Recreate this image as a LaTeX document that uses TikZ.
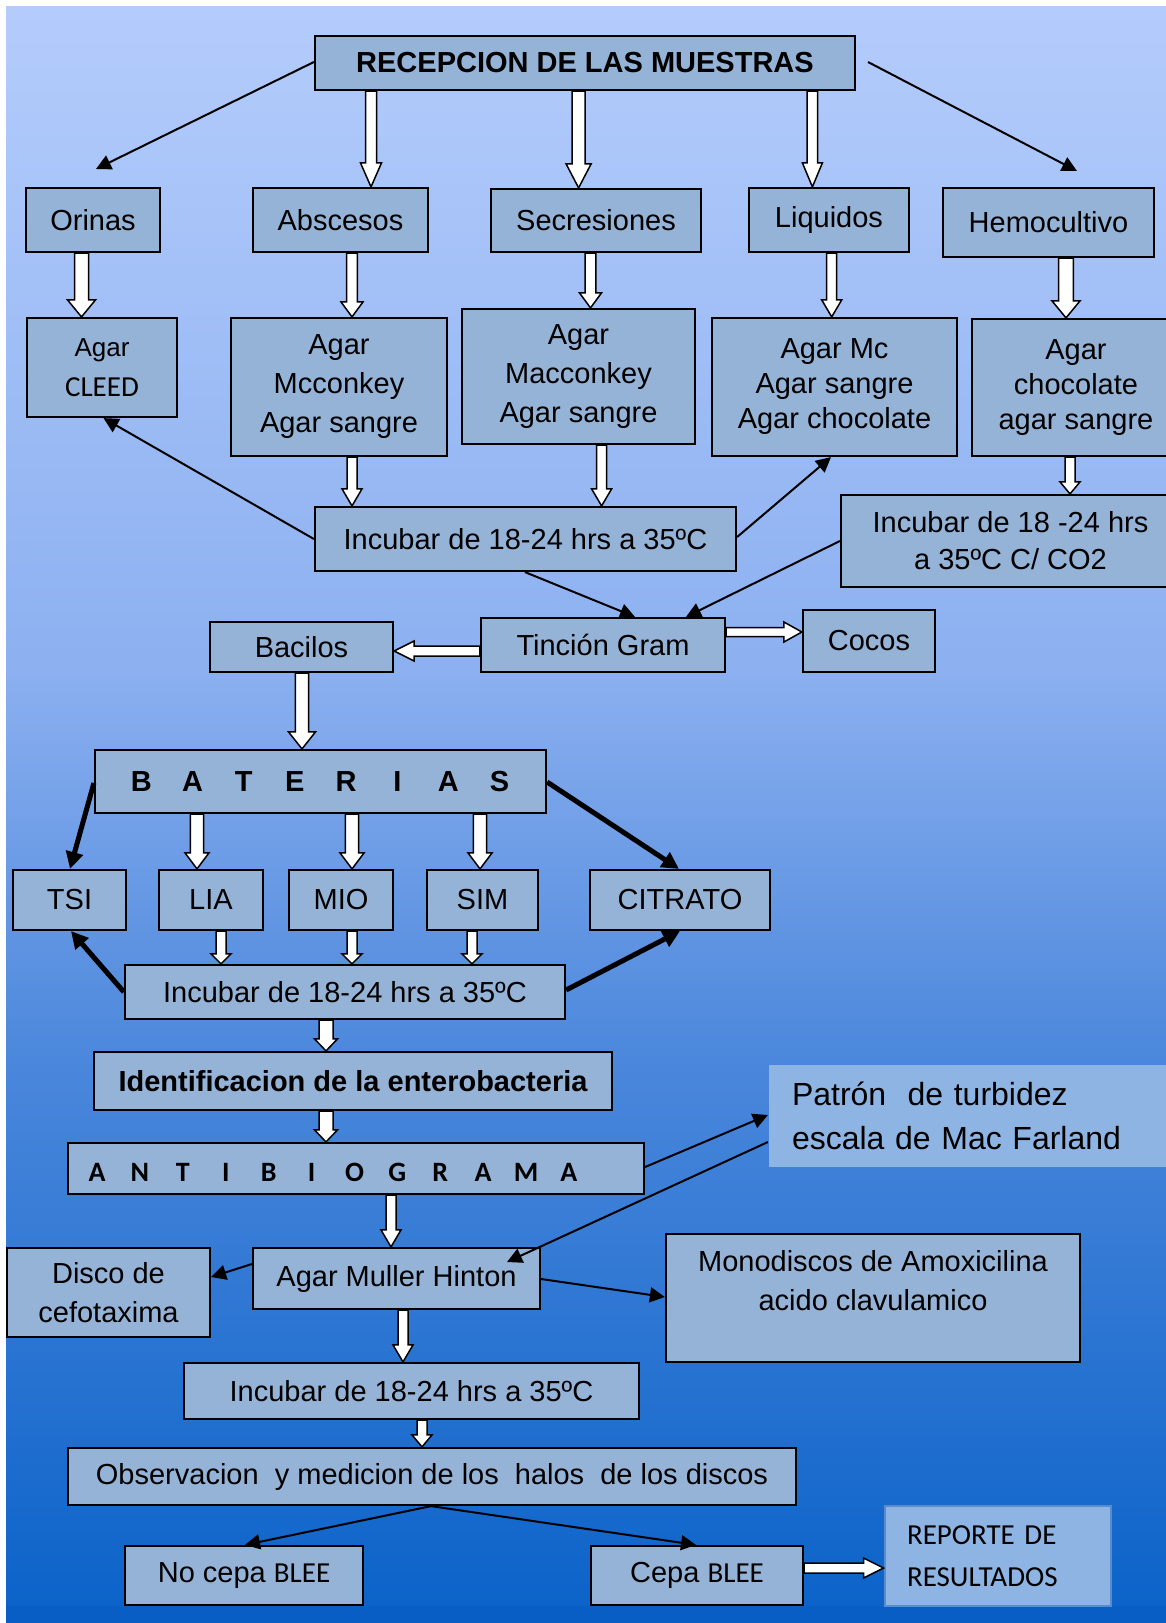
\documentclass[tikz,border=0pt]{standalone}
\usepackage{fontspec}
\setmainfont{Liberation Sans}
\newfontfamily\calib{Carlito}
\usetikzlibrary{calc,arrows.meta}
\definecolor{boxfill}{RGB}{149,179,215}
\definecolor{litefill}{RGB}{142,180,228}
\definecolor{repborder}{RGB}{90,140,205}
\definecolor{bgA}{RGB}{180,204,252}
\definecolor{bgB}{RGB}{140,176,240}
\definecolor{bgC}{RGB}{76,136,220}
\definecolor{bgD}{RGB}{12,99,201}
\definecolor{bgE}{RGB}{8,94,197}
\newcommand\fs{\fontsize{29}{39}\selectfont}
\newcommand\fst{\fontsize{29}{35}\selectfont}
\tikzset{
  box/.style={draw=black, line width=2.2pt, fill=boxfill, inner sep=0pt, align=center, font=\fs},
  thinarr/.style={draw=black, line width=2pt, -{Triangle[length=15pt,width=15pt]}},
  thickarr/.style={draw=black, line width=5pt, -{Triangle[length=17pt,width=17pt]}},
  blockarrow/.style={draw=black, fill=white, line width=1.5pt, line join=miter},
  txt/.style={inner sep=0pt, align=center, font=\fs},
}
\newcommand\bx[7][]{\node[box,minimum width={(#5-#3)*1pt},minimum height={(#6-#4)*1pt},#1] (#2) at ({(#3+#5)/2},{(#4+#6)/2}) {#7};}
\newcommand\barrow[5]{%
  \coordinate (bh) at ($(#5)!#3!(#4)$);
  \filldraw[blockarrow] ($(#4)!#1!90:(#5)$) -- ($(bh)!#1!90:(#5)$) -- ($(bh)!#2!90:(#5)$) -- (#5) -- ($(bh)!#2!-90:(#5)$) -- ($(bh)!#1!-90:(#5)$) -- ($(#4)!#1!-90:(#5)$) -- cycle;}
\newcommand\vba[6]{\coordinate (ba) at (#4 -| #6,0); \coordinate (bb) at (#5 -| #6,0); \barrow{#1}{#2}{#3}{ba}{bb}}
\newcommand\hba[6]{\coordinate (ba) at (#4 |- 0,#6); \coordinate (bb) at (#5 |- 0,#6); \barrow{#1}{#2}{#3}{ba}{bb}}
\newcommand\lt[1]{\makebox[51.2pt]{#1}}
\newcommand\la[1]{\makebox[42.9pt]{#1}}
\begin{document}
\begin{tikzpicture}[x=1pt,y=-1pt]
\useasboundingbox (0,0) rectangle (1166,1623);
% background
\fill[white] (0,0) rectangle (1166,1623);
\shade[top color=bgA, bottom color=bgB] (6,6) rectangle (1166,671);
\shade[top color=bgB, bottom color=bgC] (6,670) rectangle (1166,1051);
\shade[top color=bgC, bottom color=bgD] (6,1050) rectangle (1166,1607);
\fill[bgE] (6,1606) rectangle (1166,1623);

% boxes
\bx[font=\bfseries\fs]{rec}{315}{36}{855}{90}{RECEPCION DE LAS MUESTRAS}
\bx{orinas}{26}{188}{160}{252}{Orinas}
\bx{absc}{253}{188}{428}{252}{Abscesos}
\bx{secr}{491}{189}{701}{252}{Secresiones}
\bx{liq}{749}{188}{909}{252}{Liquidos}
\bx{hemo}{943}{188}{1154}{257}{Hemocultivo}
\bx[font=\fontsize{26}{40}\selectfont]{cleed}{27}{318}{177}{417}{Agar\\{\calib\fontsize{29}{40}\selectfont CLEED}}
\bx{mcc}{231}{318}{447}{456}{Agar\\Mcconkey\\Agar sangre}
\bx{mac}{462}{309}{695}{444}{Agar\\Macconkey\\Agar sangre}
\bx[font=\fst]{agmc}{712}{318}{957}{456}{Agar Mc\\Agar sangre\\Agar chocolate}
\bx[font=\fst]{choc}{972}{319}{1180}{456}{Agar\\chocolate\\agar sangre}
\bx{inc1}{315}{507}{736}{571}{Incubar de 18-24 hrs a 35ºC}
\bx[font=\fontsize{29}{37}\selectfont]{co2}{841}{495}{1180}{587}{Incubar de 18 -24 hrs\\a 35ºC C/ CO2}
\bx{tin}{481}{618}{725}{672}{Tinción Gram}
\bx{bac}{210}{622}{393}{672}{Bacilos}
\bx{cocos}{803}{610}{935}{672}{Cocos}
\bx[font=\bfseries\fs]{bat}{95}{750}{546}{813}{\lt{B}\lt{A}\lt{T}\lt{E}\lt{R}\lt{I}\lt{A}\lt{S}}
\bx{tsi}{13}{870}{126}{930}{TSI}
\bx{lia}{159}{870}{263}{930}{LIA}
\bx{mio}{289}{870}{393}{930}{MIO}
\bx{sim}{427}{870}{538}{930}{SIM}
\bx{cit}{590}{870}{770}{930}{CITRATO}
\bx{inc2}{125}{965}{565}{1019}{Incubar de 18-24 hrs a 35ºC}
\bx[font=\bfseries\fs]{ide}{94}{1052}{612}{1110}{Identificacion de la enterobacteria}
\bx{anti}{68}{1143}{644}{1194}{}
\node[txt,font=\calib\bfseries\fontsize{28}{30}\selectfont] (antitxt) at (333,1172) {\la{A}\la{N}\la{T}\la{I}\la{B}\la{I}\la{O}\la{G}\la{R}\la{A}\la{M}\la{A}};
\bx[draw=none,fill=litefill,text width=365pt,inner xsep=23pt,align=left,font=\fontsize{32}{43.5}\selectfont]{pat}{769}{1065}{1180}{1167}{Patrón\ \ de turbidez\\escala de Mac Farland}
\bx{mh}{253}{1248}{540}{1309}{Agar Muller Hinton}
\bx{disco}{7}{1248}{210}{1337}{Disco de\\cefotaxima}
\bx{mono}{666}{1234}{1080}{1362}{}
\node[txt] (monotxt) at (873,1281) {Monodiscos de Amoxicilina\\acido clavulamico};
\bx{inc3}{184}{1363}{639}{1419}{Incubar de 18-24 hrs a 35ºC}
\bx{obs}{68}{1448}{796}{1505}{Observacion\ \ y medicion de los\ \ halos\ \ de los discos}
\bx{nob}{125}{1546}{363}{1605}{No cepa {\calib BLEE}}
\bx{cepa}{591}{1546}{803}{1605}{Cepa {\calib BLEE}}
\bx[draw=repborder,line width=2pt,fill=litefill,text width=181.6pt,inner xsep=22.4pt,align=left,font=\calib\fontsize{29}{41.7}\selectfont]{rep}{884.6}{1506}{1111}{1606}{REPORTE DE\\RESULTADOS}

% block arrows
\vba{5.5pt}{10.5pt}{24pt}{rec.south}{absc.north}{371}
\vba{6.5pt}{12.5pt}{24pt}{rec.south}{secr.north}{578.6}
\vba{5.2pt}{10pt}{24pt}{rec.south}{liq.north}{812.4}
\vba{7pt}{14pt}{17pt}{orinas.south}{cleed.north}{81.5}
\vba{5.4pt}{11pt}{15pt}{absc.south}{mcc.north}{352}
\vba{5.4pt}{11pt}{15pt}{secr.south}{mac.north}{590.5}
\vba{5pt}{10pt}{17pt}{liq.south}{agmc.north}{831.7}
\vba{7.3pt}{14pt}{17pt}{hemo.south}{choc.north}{1066}
\vba{5pt}{10pt}{17pt}{mcc.south}{inc1.north}{352}
\vba{5pt}{10pt}{17pt}{mac.south}{inc1.north}{601.6}
\vba{5pt}{10pt}{12pt}{choc.south}{co2.north}{1070}
\hba{5pt}{10pt}{20pt}{tin.west}{bac.east}{651}
\hba{4.5pt}{10pt}{18pt}{tin.east}{cocos.west}{632}
\vba{6.6pt}{13.5pt}{17pt}{bac.south}{bat.north}{302}
\vba{6.6pt}{12pt}{16pt}{bat.south}{lia.north}{197}
\vba{6.6pt}{12pt}{16pt}{bat.south}{mio.north}{352}
\vba{6.6pt}{12pt}{16pt}{bat.south}{sim.north}{480}
\vba{5pt}{10pt}{10pt}{lia.south}{inc2.north}{221}
\vba{5pt}{10pt}{10pt}{mio.south}{inc2.north}{352}
\vba{5pt}{10pt}{10pt}{sim.south}{inc2.north}{472}
\vba{7pt}{11.5pt}{12pt}{inc2.south}{ide.north}{326}
\vba{7pt}{11.5pt}{12pt}{ide.south}{anti.north}{326}
\vba{5pt}{10pt}{17pt}{anti.south}{mh.north}{391}
\vba{5pt}{10pt}{17pt}{mh.south}{inc3.north}{403}
\vba{5pt}{10pt}{12pt}{inc3.south}{obs.north}{422}
\hba{5pt}{10pt}{20pt}{cepa.east}{rep.west}{1568}

% thin arrows
\coordinate (orA) at (96,169);
\draw[thinarr] (rec.west |- 0,62) -- (orA);
\coordinate (heS) at (868,62);
\coordinate (heA) at (1077,171);
\draw[thinarr] (heS) -- (heA);
\draw[thinarr] (inc1.west |- 0,539) -- (cleed.south -| 103.5,0);
\draw[thinarr] (inc1.east |- 0,537) -- (agmc.south -| 831,0);
\draw[thinarr] (inc1.south -| 525,0) -- (tin.north -| 635,0);
\draw[thinarr] (co2.west |- 0,541) -- (tin.north -| 686,0);
\draw[thinarr] (anti.east |- 0,1167) -- (pat.west |- 0,1115);
\coordinate (mhT) at (507,1262);
\draw[thinarr] (pat.west |- 0,1142) -- (mhT);
\draw[thinarr] (mh.west |- 0,1264) -- (disco.east |- 0,1277);
\draw[thinarr] (mh.east |- 0,1279) -- (mono.west |- 0,1297);
\draw[thinarr] (obs.south -| 431,0) -- (nob.north -| 245,0);
\draw[thinarr] (obs.south -| 431,0) -- (cepa.north -| 696,0);

% thick arrows
\draw[thickarr] (bat.west |- 0,783) -- (tsi.north -| 70,0);
\draw[thickarr] (bat.east |- 0,782) -- (cit.north -| 679,0);
\draw[thickarr] (inc2.west |- 0,992) -- (tsi.south -| 71,0);
\draw[thickarr] (inc2.east |- 0,990) -- (cit.south -| 680,0);
\end{tikzpicture}
\end{document}
